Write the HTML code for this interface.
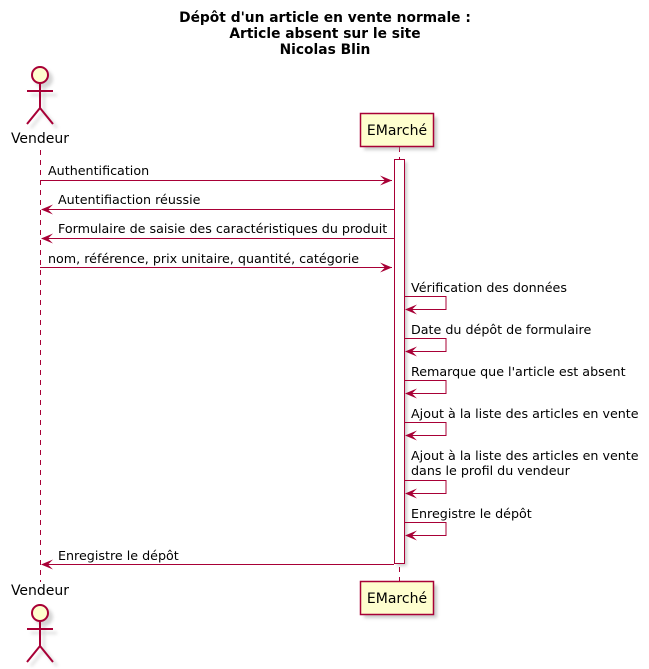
<!DOCTYPE html>
<html><head><meta charset="utf-8"><style>
html,body{margin:0;padding:0;background:#fff;}
svg{display:block;}
text{font-family:"DejaVu Sans","Liberation Sans",sans-serif;fill:#000;}
</style></head><body>
<svg width="649" height="669" viewBox="0 0 649 669" xmlns="http://www.w3.org/2000/svg">
<defs>
<filter id="sh" x="-20%" y="-20%" width="150%" height="150%"><feGaussianBlur stdDeviation="1.5"/></filter>
</defs>
<g font-weight="bold" font-size="13.8" text-anchor="middle">
<text x="325" y="22">Dépôt d'un article en vente normale :</text>
<text x="325" y="38">Article absent sur le site</text>
<text x="325" y="54">Nicolas Blin</text>
</g>
<!-- lifelines -->
<line x1="40.5" y1="150" x2="40.5" y2="582" stroke="#A80036" stroke-width="1" stroke-dasharray="5,5"/>
<line x1="399.5" y1="147" x2="399.5" y2="581" stroke="#A80036" stroke-width="1" stroke-dasharray="5,5"/>
<!-- top actor -->
<g>
<g transform="translate(4,4)" opacity="0.35" filter="url(#sh)" stroke="#888" stroke-width="2" fill="#888">
<circle cx="40" cy="75" r="8"/><path d="M40 83V108M27 91H53M40 108L27 124M40 108L53 124" fill="none"/>
</g>
<circle cx="40" cy="75" r="8" fill="#FEFECE" stroke="#A80036" stroke-width="2"/>
<path d="M40 83V108M27 91H53M40 108L27 124M40 108L53 124" stroke="#A80036" stroke-width="2" fill="none"/>
<text x="40" y="143" font-size="14" text-anchor="middle">Vendeur</text>
</g>
<!-- bottom actor -->
<g>
<g transform="translate(4,4)" opacity="0.35" filter="url(#sh)" stroke="#888" stroke-width="2" fill="#888">
<circle cx="40" cy="613" r="8"/><path d="M40 621V646M27 629H53M40 646L27 662M40 646L53 662" fill="none"/>
</g>
<circle cx="40" cy="613" r="8" fill="#FEFECE" stroke="#A80036" stroke-width="2"/>
<path d="M40 621V646M27 629H53M40 646L27 662M40 646L53 662" stroke="#A80036" stroke-width="2" fill="none"/>
<text x="40" y="595" font-size="14" text-anchor="middle">Vendeur</text>
</g>
<!-- participant boxes -->
<rect x="364" y="117" width="73" height="33" fill="#999" opacity="0.5" filter="url(#sh)"/>
<rect x="360.5" y="113.5" width="73" height="33" fill="#FEFECE" stroke="#A80036" stroke-width="1.5"/>
<text x="397" y="135" font-size="14" text-anchor="middle">EMarché</text>
<rect x="364" y="585" width="73" height="33" fill="#999" opacity="0.5" filter="url(#sh)"/>
<rect x="360.5" y="581.5" width="73" height="33" fill="#FEFECE" stroke="#A80036" stroke-width="1.5"/>
<text x="397" y="603" font-size="14" text-anchor="middle">EMarché</text>
<!-- activation -->
<rect x="397" y="162" width="10" height="404" fill="#999" opacity="0.5" filter="url(#sh)"/>
<rect x="394.5" y="159.5" width="10" height="404" fill="#fff" stroke="#A80036" stroke-width="1"/>
<g stroke="#A80036" stroke-width="1" fill="none">
<line x1="40" y1="180.5" x2="392" y2="180.5"/>
<line x1="42" y1="209.5" x2="394" y2="209.5"/>
<line x1="42" y1="238.5" x2="394" y2="238.5"/>
<line x1="40" y1="267.5" x2="392" y2="267.5"/>
<line x1="42" y1="564.5" x2="394" y2="564.5"/>
<polyline points="405,296.5 446,296.5 446,309.5 407,309.5"/>
<polyline points="405,338.5 446,338.5 446,351.5 407,351.5"/>
<polyline points="405,380.5 446,380.5 446,393.5 407,393.5"/>
<polyline points="405,422.5 446,422.5 446,435.5 407,435.5"/>
<polyline points="405,480.5 446,480.5 446,493.5 407,493.5"/>
<polyline points="405,522.5 446,522.5 446,535.5 407,535.5"/>
</g>
<g fill="#A80036">
<path d="M392 180.5L380 175.5L385 180.5L380 185.5Z"/>
<path d="M392 267.5L380 262.5L385 267.5L380 272.5Z"/>
<path d="M41 209.5L53 204.5L48 209.5L53 214.5Z"/>
<path d="M41 238.5L53 233.5L48 238.5L53 243.5Z"/>
<path d="M41 564.5L53 559.5L48 564.5L53 569.5Z"/>
<path d="M405 309.5L417 304.5L412 309.5L417 314.5Z"/>
<path d="M405 351.5L417 346.5L412 351.5L417 356.5Z"/>
<path d="M405 393.5L417 388.5L412 393.5L417 398.5Z"/>
<path d="M405 435.5L417 430.5L412 435.5L417 440.5Z"/>
<path d="M405 493.5L417 488.5L412 493.5L417 498.5Z"/>
<path d="M405 535.5L417 530.5L412 535.5L417 540.5Z"/>
</g>
<g font-size="12.7">
<text x="48" y="175">Authentification</text>
<text x="58" y="204">Autentifiaction réussie</text>
<text x="58" y="233">Formulaire de saisie des caractéristiques du produit</text>
<text x="48" y="263">nom, référence, prix unitaire, quantité, catégorie</text>
<text x="411" y="292">Vérification des données</text>
<text x="411" y="334">Date du dépôt de formulaire</text>
<text x="411" y="376">Remarque que l'article est absent</text>
<text x="411" y="418">Ajout à la liste des articles en vente</text>
<text x="411" y="460">Ajout à la liste des articles en vente</text>
<text x="411" y="475">dans le profil du vendeur</text>
<text x="411" y="518">Enregistre le dépôt</text>
<text x="58" y="560">Enregistre le dépôt</text>
</g>
</svg>
</body></html>
